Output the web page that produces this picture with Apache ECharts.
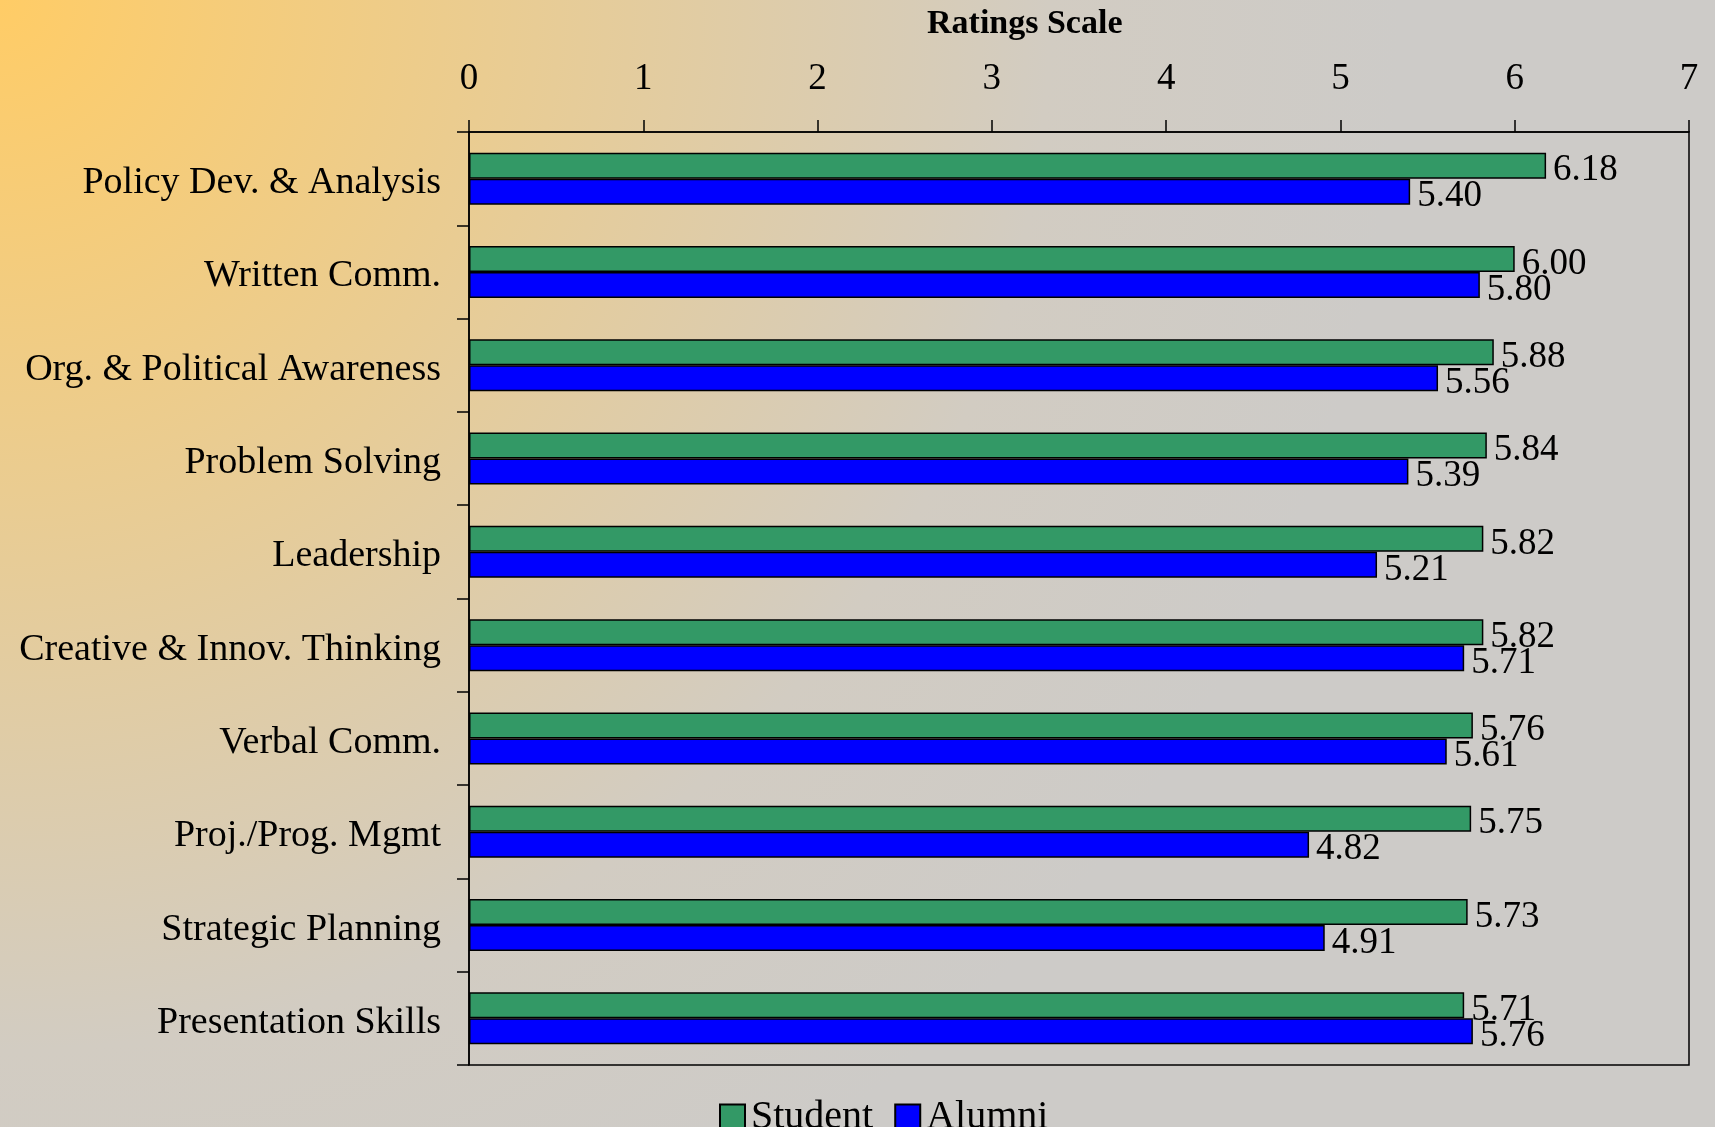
<!DOCTYPE html>
<html>
<head>
<meta charset="utf-8">
<script src="https://cdn.jsdelivr.net/npm/echarts@6/dist/echarts.min.js"></script>
<style>
html, body {margin: 0; padding: 0;}
#chart {width: 1715px; height: 1127px;}
</style>
</head>
<body>
<div id="chart"></div>
<script>
var categories = ["Policy Dev. & Analysis", "Written Comm.", "Org. & Political Awareness", "Problem Solving",
	"Leadership", "Creative & Innov. Thinking", "Verbal Comm.", "Proj./Prog. Mgmt",
	"Strategic Planning", "Presentation Skills"];
var student = [6.18, 6.00, 5.88, 5.84, 5.82, 5.82, 5.76, 5.75, 5.73, 5.71];
var alumni = [5.40, 5.80, 5.56, 5.39, 5.21, 5.71, 5.61, 4.82, 4.91, 5.76];
var scaleTicks = [0, 7, 1]; // min, max, step

var font = "'Liberation Serif', 'Times New Roman', serif";
var myChart = echarts.init(document.getElementById("chart"));

function valueLabel() {
	return {
		show: true,
		position: "right",
		distance: 7,
		offset: [0, 5],
		color: "#000",
		fontFamily: font,
		fontSize: 37,
		formatter: function (p) { return p.value.toFixed(2); }
	};
}

var option = {
	backgroundColor: {
		type: "radial", x: 0, y: 0, r: 1400, global: true,
		colorStops: [{offset: 0, color: "#FFCC66"}, {offset: 0.75, color: "#D2CCC2"}, {offset: 1, color: "#CDCBC8"}]
	},
	animation: false,
	title: {
		text: "Ratings Scale",
		left: 922,
		top: 2,
		textStyle: {fontFamily: font, fontSize: 34, fontWeight: "bold", color: "#000"}
	},
	legend: {
		data: ["Student", "Alumni"],
		left: 719,
		top: 1097,
		padding: 0,
		itemWidth: 25,
		itemHeight: 25,
		itemGap: 21,
		icon: "rect",
		textStyle: {fontFamily: font, fontSize: 40, color: "#000", padding: [4, 0, 0, 1]}
	},
	grid: {
		left: 469, right: 26, top: 132, bottom: 62,
		show: true, borderColor: "#000", borderWidth: 1.5, backgroundColor: "transparent"
	},
	xAxis: {
		type: "value",
		position: "top",
		min: scaleTicks[0],
		max: scaleTicks[1],
		interval: scaleTicks[2],
		splitLine: {show: false},
		axisLine: {show: true, lineStyle: {color: "#000", width: 1.5}},
		axisTick: {show: true, length: 12, lineStyle: {color: "#000", width: 1.5}},
		axisLabel: {fontFamily: font, fontSize: 37, color: "#000", margin: 34}
	},
	yAxis: {
		type: "category",
		inverse: true,
		data: categories,
		axisLine: {show: true, lineStyle: {color: "#000", width: 1.5}},
		axisTick: {show: true, length: 12, lineStyle: {color: "#000", width: 1.5}},
		axisLabel: {
			margin: 28,
			formatter: function (v) { return "{c|" + v + "}"; },
			rich: {c: {fontFamily: font, fontSize: 38, color: "#000", padding: [9, 0, 0, 0]}}
		}
	},
	series: [{
		name: "Student",
		type: "bar",
		data: student,
		barWidth: 26,
		barGap: "0%",
		itemStyle: {color: "#339966", borderColor: "#000", borderWidth: 1.5},
		label: valueLabel()
	}, {
		name: "Alumni",
		type: "bar",
		data: alumni,
		barWidth: 26,
		barGap: "0%",
		itemStyle: {color: "#0000FF", borderColor: "#000", borderWidth: 1.5},
		label: valueLabel()
	}]
};
myChart.setOption(option);
</script>
</body>
</html>
